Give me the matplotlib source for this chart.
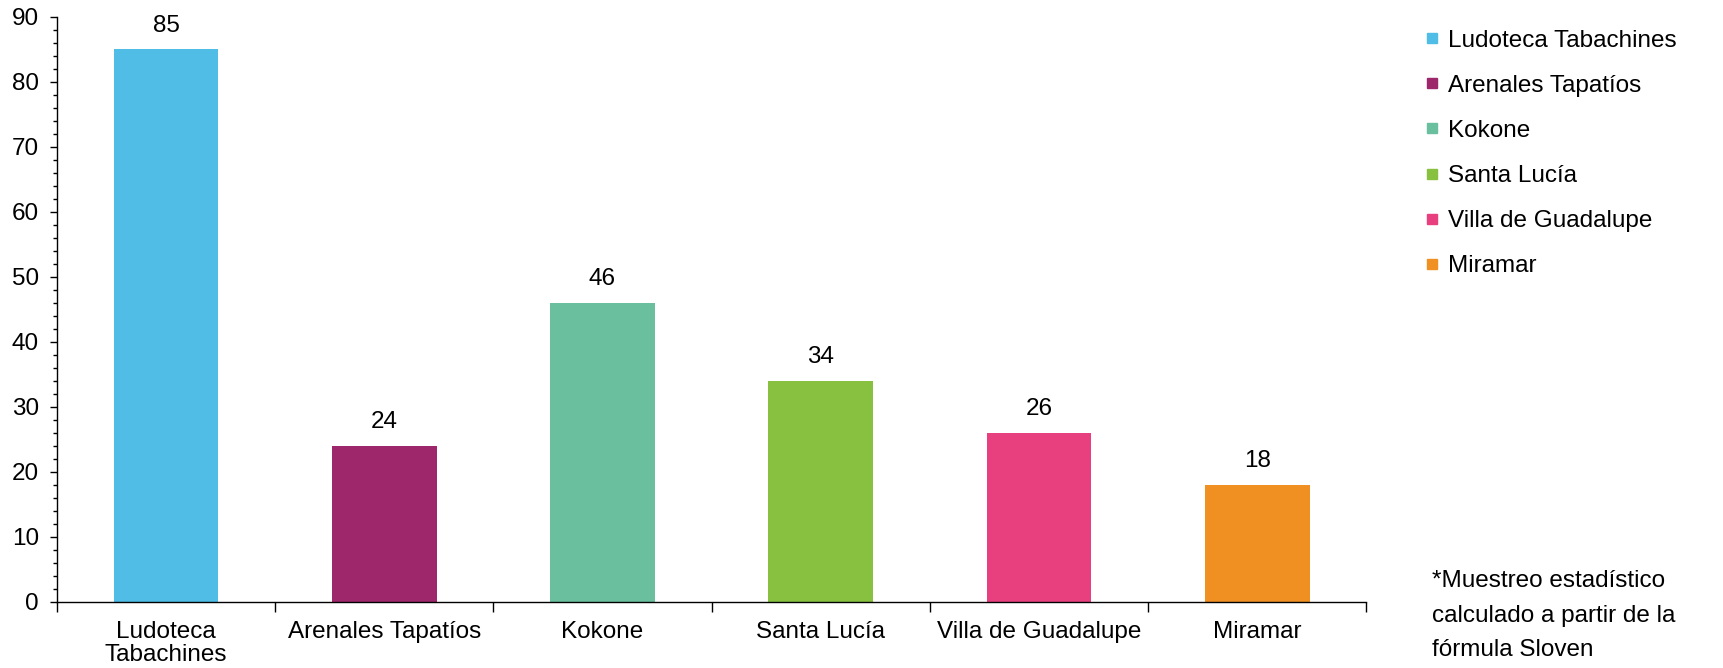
import matplotlib
matplotlib.use('Agg')
import matplotlib.pyplot as plt
from matplotlib.lines import Line2D
from matplotlib.ticker import MultipleLocator, FixedLocator, NullFormatter

plt.rcParams['font.family'] = ['Liberation Sans', 'DejaVu Sans']

categories = ['Ludoteca Tabachines', 'Arenales Tapatíos', 'Kokone', 'Santa Lucía',
              'Villa de Guadalupe', 'Miramar']
tick_labels = ['Ludoteca\nTabachines', 'Arenales Tapatíos', 'Kokone', 'Santa Lucía',
               'Villa de Guadalupe', 'Miramar']
values = [85, 24, 46, 34, 26, 18]
colors = ['#4FBDE5', '#9E276C', '#6ABF9F', '#88C140', '#E83F7F', '#F08F22']
note = '*Muestreo estadístico\ncalculado a partir de la\nfórmula Sloven'

fs = 17.5
fig = plt.figure(figsize=(17.23, 6.68), dpi=100)
ax = fig.add_axes([0.033, 0.099, 0.760, 0.876])

x = range(len(categories))
bars = ax.bar(x, values, width=0.48, color=colors)
for b, v in zip(bars, values):
    ax.annotate(str(v), (b.get_x() + b.get_width() / 2, v), xytext=(0, 9),
                textcoords='offset points', ha='center', va='bottom', fontsize=fs)

ax.set_xlim(-0.5, len(categories) - 0.5)
ax.set_ylim(0, 90)
ax.yaxis.set_major_locator(MultipleLocator(10))
ax.yaxis.set_minor_locator(MultipleLocator(2))

# boundary ticks on x, labels centred under bars
ax.xaxis.set_major_locator(FixedLocator([i - 0.5 for i in range(len(categories) + 1)]))
ax.xaxis.set_major_formatter(NullFormatter())
ax.xaxis.set_minor_locator(FixedLocator(list(x)))
ax.set_xticklabels(tick_labels, minor=True, linespacing=1.05)
ax.tick_params(axis='x', which='minor', length=0, pad=14, labelsize=fs)
ax.tick_params(axis='x', which='major', length=7, width=1)
ax.tick_params(axis='y', which='major', length=5, width=1, pad=8, labelsize=fs)
ax.tick_params(axis='y', which='minor', length=3, width=1)

for s in ['top', 'right']:
    ax.spines[s].set_visible(False)
for s in ['left', 'bottom']:
    ax.spines[s].set_linewidth(1)

handles = [Line2D([], [], marker='s', linestyle='none', markersize=6.5, color=c) for c in colors]
fig.legend(handles, categories, loc='upper left', bbox_to_anchor=(0.822, 0.97),
           frameon=False, fontsize=fs, handlelength=0.5, handletextpad=0.4,
           labelspacing=0.95, borderaxespad=0)

fig.text(0.831, 0.01, note, fontsize=fs, ha='left', va='bottom', linespacing=1.74)

fig.savefig('out.png', dpi=100)
